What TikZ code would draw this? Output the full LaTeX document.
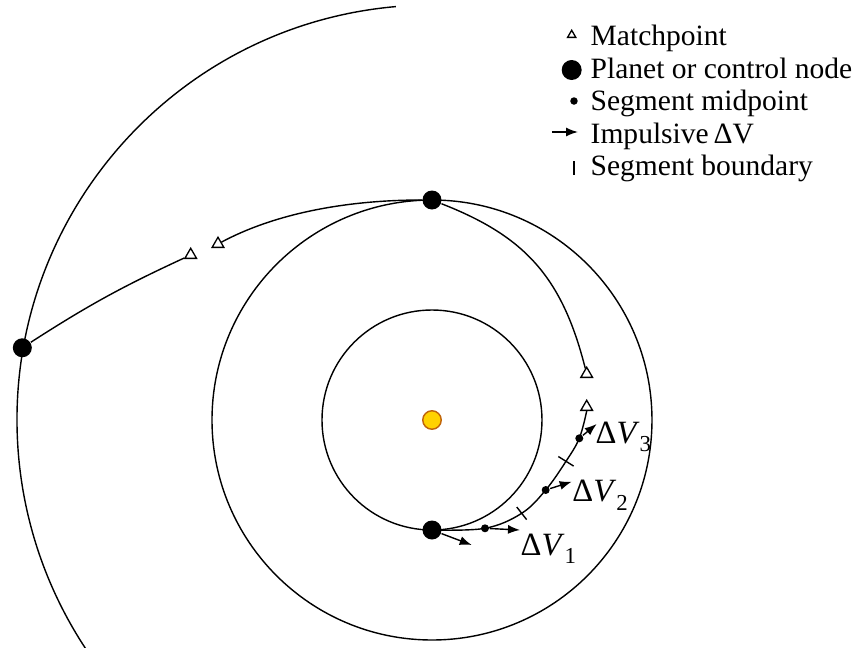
\documentclass[tikz,border=0pt]{standalone}
\usepackage{fontspec}
\setmainfont{Liberation Serif}
\usepackage{tikz}
\usetikzlibrary{arrows.meta,shapes.geometric}
\definecolor{SunGold}{HTML}{FFD200}
\definecolor{SunRim}{HTML}{C0640A}
\newcommand\dvlab[1]{Δ\textit{V}\raisebox{-0.26em}{\fontsize{13}{13}\selectfont #1}}

\begin{document}
\begin{tikzpicture}[x=0.02cm, y=0.02cm, line width=0.8pt,
  orbit/.style={draw=black, line width=0.8pt},
  planet/.style={circle, fill=black, inner sep=0pt, minimum size=0.38cm},
  midpt/.style={circle, fill=black, inner sep=0pt, minimum size=0.16cm},
  match/.style={regular polygon, regular polygon sides=3, draw=black, fill=white, line width=0.75pt, inner sep=0pt, minimum size=0.27cm},
  dv/.style={-{Latex[length=2.4mm,width=1.8mm]}, line width=0.8pt},
  dvlabel/.style={anchor=base west, inner sep=0pt, font=\fontsize{18.5}{22}\selectfont},
  legtext/.style={anchor=base west, inner sep=0pt, font=\fontsize{16.8}{20}\selectfont}]
  \useasboundingbox (-432,-227) rectangle (424,420);

  \draw[orbit] (0,0) circle[radius=110];
  \draw[orbit] (0,0) circle[radius=220];
  \draw[orbit] (95:415) arc[start angle=95, end angle=214, radius=415];

  \node[circle, fill=SunGold, draw=SunRim, line width=0.8pt, inner sep=0pt, minimum size=0.37cm] (sun) at (0,0) {};
  \node[planet] (L) at (170:416) {};
  \node[planet] (T) at (90:220) {};
  \node[planet] (E) at (270:110) {};
  \node[match] (A1) at (-241.3,165) {};
  \node[match] (A2) at (-214,176) {};
  \node[match] (M1) at (154.7,46) {};
  \node[match] (M2) at (154.7,13) {};
  \node[midpt] (m1) at (53,-108.3) {};
  \node[midpt] (m2) at (113.7,-70) {};
  \node[midpt] (m3) at (147.3,-18.3) {};
  \coordinate (b1) at (89.7,-93.3);
  \coordinate (b2) at (134,-41.3);

  \draw[orbit] (L) to[bend left=4] (A1);
  \draw[orbit] (T) .. controls (-90,220) and (-160,205) .. (A2);
  \draw[orbit] (T) .. controls (92,184) and (130,144) .. (M1);
  \draw[orbit] plot[smooth, tension=0.6] coordinates {(E) (m1) (b1) (m2) (b2) (m3) (M2.south)};
  \draw ([shift={(-52:8)}]b1) -- ([shift={(128:8)}]b1);
  \draw ([shift={(-32:9)}]b2) -- ([shift={(148:9)}]b2);

  \coordinate (dv0) at (39.7,-125);
  \coordinate (dv1) at (88,-110);
  \coordinate (dv2) at (139.7,-61.7);
  \coordinate (dv3) at (164.7,-4);
  \draw[dv] (E) -- (dv0);
  \draw[dv] (m1) -- (dv1);
  \draw[dv] (m2) -- (dv2);
  \draw[dv] (m3) -- (dv3);
  \node[dvlabel] (lab1) at (88,-135) {\dvlab{1}};
  \node[dvlabel] (lab2) at (139.7,-81.7) {\dvlab{2}};
  \node[dvlabel] (lab3) at (163,-23) {\dvlab{3}};

  \node[match, minimum size=0.19cm] (keymatch) at (139.7,385) {};
  \node[legtext] (txtmatch) at (158,375) {Matchpoint};
  \node[planet, minimum size=0.4cm] (keyplanet) at (139.7,350) {};
  \node[legtext] (txtplanet) at (158,342) {Planet or control node};
  \node[midpt, minimum size=0.15cm] (keymid) at (142,319) {};
  \node[legtext] (txtmid) at (158,310) {Segment midpoint};
  \coordinate (keyfrom) at (120,288);
  \coordinate (keyto) at (146,288);
  \draw[dv] (keyfrom) -- (keyto);
  \node[legtext] (txtdv) at (158,277) {Impulsive\,ΔV};
  \draw (142,259) -- (142,245);
  \node[legtext] (txtbound) at (158,245) {Segment boundary};
\end{tikzpicture}
\end{document}
